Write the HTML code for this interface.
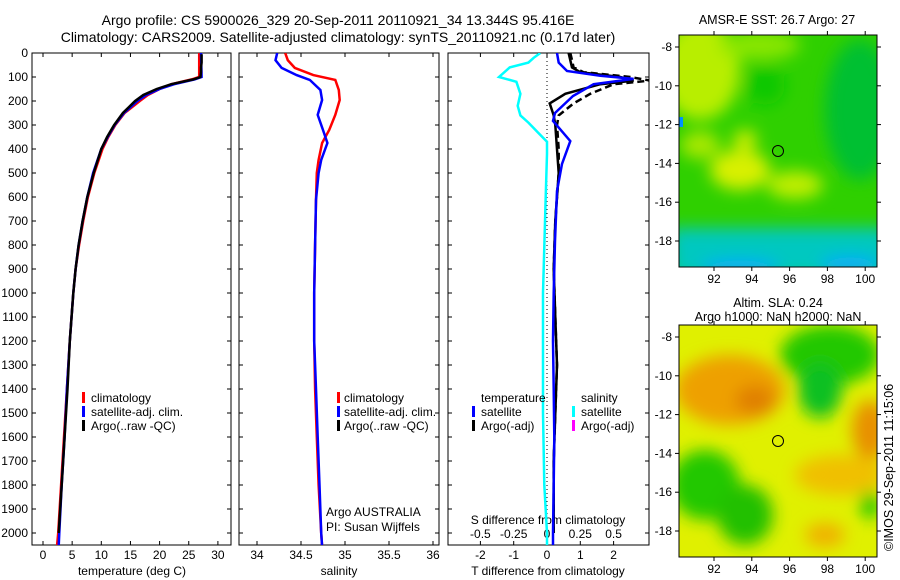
<!DOCTYPE html>
<html><head><meta charset="utf-8"><style>
body{margin:0;background:#fff;}
svg{display:block;font-family:"Liberation Sans",sans-serif;}
text{font-size:12px;fill:#000;}
.tt{font-size:14px;}
.mt{font-size:12.5px;}
</style></head><body>
<svg id="c" width="900" height="580" xmlns="http://www.w3.org/2000/svg">
<defs>
<filter id="bl" x="-20%" y="-20%" width="140%" height="140%"><feGaussianBlur stdDeviation="8"/></filter>
<clipPath id="cm1"><rect x="679" y="35" width="198" height="232"/></clipPath>
<clipPath id="cm2"><rect x="679" y="325" width="198" height="232"/></clipPath>
<clipPath id="cp1"><rect x="32" y="53" width="199" height="492"/></clipPath>
<clipPath id="cp2"><rect x="239" y="53" width="200" height="492"/></clipPath>
<clipPath id="cp3"><rect x="448" y="53" width="201" height="492"/></clipPath>
</defs>
<text class="tt" x="338" y="25" text-anchor="middle">Argo profile: CS 5900026_329 20-Sep-2011 20110921_34 13.344S 95.416E</text>
<text class="tt" x="338" y="42" text-anchor="middle">Climatology: CARS2009. Satellite-adjusted climatology: synTS_20110921.nc (0.17d later)</text>

<g clip-path="url(#cm1)">
<rect x="679" y="35" width="198" height="232" fill="#2fd000"/>
<g filter="url(#bl)">
<ellipse cx="700" cy="70" rx="40" ry="50" fill="#b8ee00"/>
<ellipse cx="760" cy="45" rx="40" ry="15" fill="#88e600"/>
<ellipse cx="860" cy="110" rx="35" ry="70" fill="#00c030"/>
<ellipse cx="765" cy="85" rx="20" ry="20" fill="#10c800"/>
<ellipse cx="740" cy="170" rx="30" ry="20" fill="#d8f000"/>
<ellipse cx="795" cy="185" rx="28" ry="14" fill="#c0ee00"/>
<ellipse cx="745" cy="140" rx="12" ry="10" fill="#d0ee00"/>
<ellipse cx="700" cy="145" rx="20" ry="14" fill="#a8e800"/>
<rect x="670" y="228" width="220" height="50" fill="#00c8c0"/>
<ellipse cx="740" cy="268" rx="40" ry="8" fill="#0aa8ff"/>
<ellipse cx="850" cy="265" rx="30" ry="8" fill="#0aa8ff"/>
</g>
<rect x="679" y="117" width="4" height="10" fill="#0090ff"/>
</g>
<rect x="679" y="35" width="198" height="232" fill="none" stroke="#000"/>
<circle cx="778" cy="151" r="5.5" fill="none" stroke="#000"/>
<text class="mt" x="777" y="24" text-anchor="middle">AMSR-E SST: 26.7 Argo: 27</text>

<g clip-path="url(#cm2)">
<rect x="679" y="325" width="198" height="232" fill="#e0f000"/>
<g filter="url(#bl)">
<ellipse cx="730" cy="390" rx="55" ry="35" fill="#eea000"/>
<ellipse cx="755" cy="400" rx="20" ry="15" fill="#e08000"/>
<ellipse cx="830" cy="355" rx="50" ry="30" fill="#22c800"/>
<ellipse cx="820" cy="390" rx="22" ry="28" fill="#10c020"/>
<ellipse cx="870" cy="430" rx="18" ry="30" fill="#e89000"/>
<ellipse cx="840" cy="475" rx="45" ry="20" fill="#f0c000"/>
<ellipse cx="705" cy="485" rx="35" ry="35" fill="#20c800"/>
<ellipse cx="745" cy="515" rx="28" ry="30" fill="#20c000"/>
<ellipse cx="870" cy="505" rx="10" ry="14" fill="#20c800"/>
<ellipse cx="825" cy="535" rx="20" ry="12" fill="#f0b000"/>
</g>
</g>
<rect x="679" y="325" width="198" height="232" fill="none" stroke="#000"/>
<circle cx="778" cy="441" r="5.5" fill="none" stroke="#000"/>
<text class="mt" x="778" y="307" text-anchor="middle">Altim. SLA: 0.24</text>
<text class="mt" x="778" y="321" text-anchor="middle">Argo h1000: NaN h2000: NaN</text>
<text class="mt" transform="translate(893,551) rotate(-90)">©IMOS 29-Sep-2011 11:15:06</text>

<g id="axes"></g>
<g id="marks"></g>

<g>
<rect x="82" y="392" width="3" height="11" fill="#f00"/><text x="91" y="402">climatology</text>
<rect x="82" y="406" width="3" height="11" fill="#00f"/><text x="91" y="416">satellite-adj. clim.</text>
<rect x="82" y="420" width="3" height="11" fill="#000"/><text x="91" y="430">Argo(..raw -QC)</text>
</g>
<g>
<rect x="337" y="392" width="3" height="11" fill="#f00"/><text x="344" y="402">climatology</text>
<rect x="337" y="406" width="3" height="11" fill="#00f"/><text x="344" y="416">satellite-adj. clim.</text>
<rect x="337" y="420" width="3" height="11" fill="#000"/><text x="344" y="430">Argo(..raw -QC)</text>
<text x="326" y="516">Argo AUSTRALIA</text>
<text x="326" y="531">PI: Susan Wijffels</text>
</g>
<g>
<text x="481" y="402">temperature</text>
<rect x="472" y="406" width="3" height="11" fill="#00f"/><text x="481" y="416">satellite</text>
<rect x="472" y="420" width="3" height="11" fill="#000"/><text x="481" y="430">Argo(-adj)</text>
<text x="581" y="402">salinity</text>
<rect x="572" y="406" width="3" height="11" fill="#0ff"/><text x="581" y="416">satellite</text>
<rect x="572" y="420" width="3" height="11" fill="#f0f"/><text x="581" y="430">Argo(-adj)</text>
</g>
</svg>
<script>
// ---- data ----
const depthTicks=[0,100,200,300,400,500,600,700,800,900,1000,1100,1200,1300,1400,1500,1600,1700,1800,1900,2000];
const tempTicks=[0,5,10,15,20,25,30];
const salTicks=[34,34.5,35,35.5,36];
const tdTicks=[-2,-1,0,1,2];
const sdTicks=[-0.5,-0.25,0,0.25,0.5];
const sdTickLabels=["-0.5","-0.25","0","0.25","0.5"];
const mapLonTicks=[92,94,96,98,100];
const mapLatTicks=[-8,-10,-12,-14,-16,-18];

const tDepth=[0,100,110,130,150,175,200,250,300,350,400,500,600,700,800,900,1000,1200,1400,1600,1800,2000,2055];
const tClim=[26.8,26.8,25.5,22,20,18,16.6,14,12.4,11.2,10.2,8.8,7.7,6.9,6.2,5.6,5.2,4.6,4.1,3.6,3.1,2.6,2.4];
const tSat=[27.1,27.2,26,22.5,20,17.7,16.2,13.9,12.3,11.1,10,8.6,7.6,6.8,6.1,5.6,5.2,4.6,4.1,3.7,3.2,2.8,2.7];
const argoDepth=[5,20,40,60,80,100,110,130,150,175,200,250,300,350,400,500,600,700,800,900,1000,1200,1400,1600,1800,2000];
const tArgo=[27.2,27.2,27.2,27.1,27.1,27.0,25.8,22,19.5,17.2,15.8,13.7,12.2,11,10,8.7,7.6,6.8,6.1,5.6,5.2,4.6,4.2,3.7,3.2,2.7];

const sDepth=[0,30,62,92,112,154,196,258,321,375,446,500,612,800,1000,1200,1400,1600,1800,2000,2055];
const sClim=[34.32,34.35,34.43,34.64,34.89,34.93,34.94,34.89,34.82,34.74,34.7,34.68,34.67,34.66,34.65,34.65,34.66,34.68,34.7,34.73,34.74];
const sSat=[34.23,34.21,34.28,34.45,34.6,34.72,34.74,34.69,34.75,34.8,34.73,34.7,34.67,34.66,34.65,34.65,34.67,34.69,34.71,34.73,34.74];

const dDepth=[0,40,75,95,108,130,179,250,283,367,462,575,783,1000,1200,1400,1600,1800,2000,2055];
const tdSat=[0.3,0.35,0.6,1.6,2.6,1.4,0.78,0.24,0.18,0.7,0.45,0.3,0.24,0.2,0.18,0.2,0.22,0.2,0.18,0.18];
const tdArgoDepth=[0,30,60,80,100,115,130,170,210,260,300,400,500,700,900,1100,1300,1500,1700,1900,2000];
const tdArgo=[0.65,0.7,0.75,1.0,2.2,2.6,1.6,0.55,0.08,0.2,0.25,0.3,0.35,0.25,0.2,0.25,0.3,0.25,0.2,0.2,0.2];
const tdArgoRaw=[0.7,0.75,0.8,1.1,2.5,3.1,2.0,1.3,0.8,0.35,0.3,0.35,0.35,0.25,0.2,0.25,0.3,0.25,0.2,0.2,0.2];
const sdSatDepth=[0,20,40,60,100,120,170,220,260,290,330,370,420,600,1000,1500,1800,2000,2055];
const sdSat=[-0.05,-0.1,-0.14,-0.28,-0.36,-0.23,-0.2,-0.22,-0.2,-0.14,-0.07,0,0,-0.01,-0.03,-0.03,-0.02,0,0];

// ---- axes functions ----
const yD=d=>53+0.24*d;
const xT=t=>43+5.83*t;
const xS=s=>257+88*(s-34);
const xTD=t=>547+33.3*t;
const xSD=s=>547+133.2*s;
const xLon=l=>714+18.9*(l-92);
const yLat1=l=>47+19.4*(-8-l);
const yLat2=l=>337+19.4*(-8-l);

const NS='http://www.w3.org/2000/svg';
const axes=document.getElementById('axes'), marks=document.getElementById('marks');
function mk(tag,attrs,parent){const e=document.createElementNS(NS,tag);for(const k in attrs)e.setAttribute(k,attrs[k]);parent.appendChild(e);return e;}

function frame(x,y,w,h,name){const r=mk('rect',{x:x,y:y,width:w,height:h,fill:'none',stroke:'#000'},axes);

}
frame(32,53,199,492,'temperature-panel-frame');
frame(239,53,200,492,'salinity-panel-frame');
frame(448,53,201,492,'difference-panel-frame');

depthTicks.forEach(d=>{
  const y=yD(d);
  [[32,1],[239,1],[448,1],[231,-1],[439,-1],[649,-1]].forEach(([x,s])=>mk('line',{x1:x,y1:y,x2:x+4*s,y2:y,stroke:'#000'},axes));
  const t=mk('text',{x:28,y:y+4,'text-anchor':'end'},axes);t.textContent=d;
  
  
});
function xAxis(ticks,labels,fx,ty){
  ticks.forEach((v,i)=>{const x=fx(v);
    mk('line',{x1:x,y1:545,x2:x,y2:541,stroke:'#000'},axes);
    mk('line',{x1:x,y1:53,x2:x,y2:57,stroke:'#000'},axes);
    const t=mk('text',{x:x,y:ty,'text-anchor':'middle'},axes);t.textContent=labels?labels[i]:v;
    
    
  });
}
xAxis(tempTicks,null,xT,559);
xAxis(salTicks,null,xS,559);
xAxis(tdTicks,null,xTD,559);
sdTicks.forEach((v,i)=>{const x=xSD(v);const t=mk('text',{x:x,y:538,'text-anchor':'middle'},axes);t.textContent=sdTickLabels[i];

});
[['temperature (deg C)',132,'temperature-axis-title'],['salinity',339,'salinity-axis-title'],['T difference from climatology',548,'t-diff-axis-title']].forEach(([s,x,n])=>{
  const t=mk('text',{x:x,y:575,'text-anchor':'middle'},axes);t.textContent=s;
  
  });
{const t=mk('text',{x:548,y:524,'text-anchor':'middle'},axes);t.textContent='S difference from climatology';

}
mk('line',{x1:xTD(0),y1:53,x2:xTD(0),y2:545,stroke:'#000','stroke-dasharray':'1,3'},axes);

[[yLat1,35,267],[yLat2,325,557]].forEach(([fy,top,bot])=>{
  mapLatTicks.forEach(l=>{const y=fy(l);
    mk('line',{x1:679,y1:y,x2:675,y2:y,stroke:'#000'},axes);
    mk('line',{x1:877,y1:y,x2:881,y2:y,stroke:'#000'},axes);
    const t=mk('text',{x:672,y:y+4,'text-anchor':'end'},axes);t.textContent=l;
    
    });
  mapLonTicks.forEach(l=>{const x=xLon(l);
    mk('line',{x1:x,y1:bot,x2:x,y2:bot+4,stroke:'#000'},axes);
    mk('line',{x1:x,y1:top,x2:x,y2:top-4,stroke:'#000'},axes);
    const t=mk('text',{x:x,y:bot+16,'text-anchor':'middle'},axes);t.textContent=l;
    
    });
});

function line(xs,ds,fx,color,clip,name,dash){
  const pts=xs.map((v,i)=>fx(v).toFixed(1)+','+yD(ds[i]).toFixed(1)).join(' ');
  const a={points:pts,fill:'none',stroke:color,'stroke-width':2.5,'clip-path':'url(#'+clip+')'};
  if(dash)a['stroke-dasharray']=dash;
  const p=mk('polyline',a,marks);
  
  
}
line(tClim,tDepth,xT,'#f00','cp1','temp-climatology-line');
line(tSat,tDepth,xT,'#00f','cp1','temp-satellite-line');
line(tArgo,argoDepth,xT,'#000','cp1','temp-argo-line');
line(sClim,sDepth,xS,'#f00','cp2','sal-climatology-line');
line(sSat,sDepth,xS,'#00f','cp2','sal-satellite-line');
line(sdSat,sdSatDepth,xSD,'#0ff','cp3','sdiff-satellite-line');
line(tdArgoRaw,tdArgoDepth,xTD,'#000','cp3','tdiff-argo-raw-line','7,4');
line(tdArgo,tdArgoDepth,xTD,'#000','cp3','tdiff-argo-line');
line(tdSat,dDepth,xTD,'#00f','cp3','tdiff-satellite-line');
</script>
</body></html>
